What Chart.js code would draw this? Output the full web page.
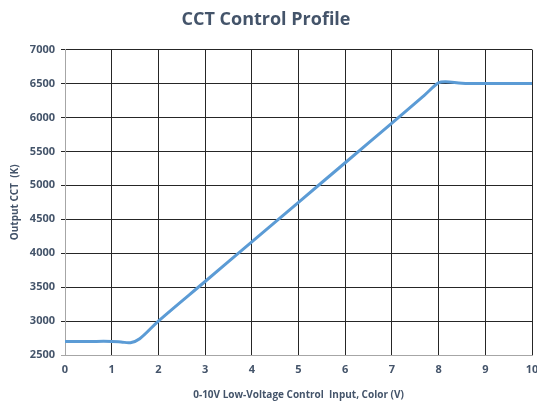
<!DOCTYPE html>
<html>
<head>
<meta charset="utf-8">
<script src="https://cdn.jsdelivr.net/npm/chart.js@4/dist/chart.umd.min.js"></script>
<style>
html,body{margin:0;padding:0;background:#fff;}
#wrap{width:537px;height:401px;}
</style>
</head>
<body>
<div id="wrap"><canvas id="c" width="537" height="401"></canvas></div>
<script>
const voltage = [0, 0.5, 1, 1.2, 1.4, 1.6, 2, 3, 4, 5, 6, 7, 7.7, 8, 8.15, 8.5, 9, 10];
const cct = [2700, 2700, 2700, 2692, 2682, 2740, 3000, 3583, 4167, 4750, 5333, 5917, 6330, 6510, 6528, 6505, 6500, 6500];
const xTicks = [0,1,2,3,4,5,6,7,8,9,10];
const yTicks = [2500,3000,3500,4000,4500,5000,5500,6000,6500,7000];

const textColor = '#44546a';
const fontFam = '"Open Sans", "Liberation Sans", sans-serif';

new Chart(document.getElementById('c'), {
  type: 'line',
  data: {
    datasets: [{
      data: voltage.map((v, i) => ({x: v, y: cct[i]})),
      borderColor: '#5b9bd5',
      borderWidth: 3,
      pointRadius: 0,
      tension: 0.35,
      fill: false
    }]
  },
  options: {
    responsive: false,
    animation: false,
    layout: {padding: {left: 0, right: 5, top: 0, bottom: 0}},
    plugins: {
      legend: {display: false},
      tooltip: {enabled: false},
      title: {
        display: true,
        text: 'CCT Control Profile',
        color: textColor,
        font: {family: fontFam, size: 18, weight: 'bold'},
        padding: {top: 9, bottom: 19}
      }
    },
    scales: {
      x: {
        type: 'linear',
        min: 0, max: 10,
        afterBuildTicks: s => { s.ticks = xTicks.map(v => ({value: v})); },
        afterFit: s => { s.height = 46; s.paddingLeft = 0; s.paddingRight = 0; },
        grid: {
          color: ctx => ctx.index === 0 ? '#a6a6a6' : '#262626',
          drawTicks: false,
          lineWidth: 1
        },
        border: {color: '#a6a6a6'},
        ticks: {color: textColor, font: {family: fontFam, size: 11, weight: 'bold'}, padding: 8,
          callback: v => String(v)},
        title: {
          display: true,
          text: '0-10V Low-Voltage Control  Input, Color (V)',
          color: textColor,
          font: {family: fontFam, size: 10, weight: 'bold'},
          padding: {top: 2, bottom: 0}
        }
      },
      y: {
        min: 2500, max: 7000,
        afterBuildTicks: s => { s.ticks = yTicks.map(v => ({value: v})); },
        afterFit: s => { s.width = 65; },
        grid: {
          color: ctx => ctx.index === 0 ? '#a6a6a6' : '#262626',
          tickLength: 4,
          lineWidth: 1
        },
        border: {color: '#a6a6a6'},
        ticks: {color: textColor, font: {family: fontFam, size: 11, weight: 'bold'}, padding: 6,
          callback: v => String(v)},
        title: {
          display: true,
          text: 'Output CCT  (K)',
          color: textColor,
          font: {family: fontFam, size: 10, weight: 'bold'},
          padding: {top: 9, bottom: 4}
        }
      }
    }
  }
});
</script>
</body>
</html>
